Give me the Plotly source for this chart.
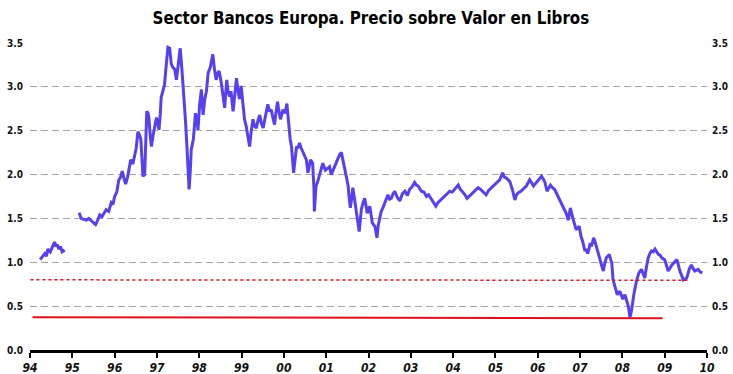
import plotly.graph_objects as go

# ---- data (x in decimal years on the chart's scale) ----
years_a = [1994.24, 1994.35, 1994.39, 1994.42, 1994.48, 1994.54, 1994.58, 1994.62,
           1994.65, 1994.68, 1994.72, 1994.76, 1994.82]
pbv_a = [1.03, 1.10, 1.07, 1.15, 1.12, 1.18, 1.23, 1.18, 1.20, 1.15, 1.18, 1.12, 1.14]

years_b = [
    1995.16, 1995.21, 1995.27, 1995.33, 1995.39, 1995.45, 1995.50, 1995.55, 1995.60, 1995.65,
    1995.70, 1995.76, 1995.80, 1995.86, 1995.92, 1995.96, 1996.00, 1996.05, 1996.10, 1996.14,
    1996.18, 1996.22, 1996.26, 1996.31, 1996.38, 1996.43, 1996.47, 1996.51, 1996.55, 1996.59,
    1996.62, 1996.65, 1996.67, 1996.71, 1996.73, 1996.76, 1996.79, 1996.81, 1996.84, 1996.87,
    1996.91, 1996.95, 1996.99, 1997.02, 1997.05, 1997.08, 1997.10, 1997.14, 1997.18, 1997.22,
    1997.26, 1997.30, 1997.34, 1997.38, 1997.42, 1997.46, 1997.51, 1997.55, 1997.59, 1997.63,
    1997.67, 1997.70, 1997.73, 1997.76, 1997.79, 1997.81, 1997.86, 1997.91, 1997.94, 1997.97,
    1998.01, 1998.05, 1998.09, 1998.13, 1998.17, 1998.21, 1998.26, 1998.32, 1998.36, 1998.40,
    1998.43, 1998.47, 1998.52, 1998.56, 1998.60, 1998.65, 1998.68, 1998.72, 1998.75, 1998.80,
    1998.84, 1998.88, 1998.91, 1998.95, 1998.99, 1999.03, 1999.07, 1999.11, 1999.15, 1999.19,
    1999.23, 1999.27, 1999.31, 1999.35, 1999.39, 1999.43, 1999.47, 1999.51, 1999.57, 1999.62,
    1999.66, 1999.70, 1999.74, 1999.78, 1999.81, 1999.85, 1999.89, 1999.92, 1999.98, 2000.03,
    2000.07, 2000.12, 2000.15, 2000.18, 2000.21, 2000.23, 2000.26, 2000.30, 2000.33, 2000.37,
    2000.41, 2000.45, 2000.49, 2000.53, 2000.57, 2000.60, 2000.63, 2000.68, 2000.71, 2000.72,
    2000.76, 2000.80, 2000.83, 2000.88, 2000.92, 2000.98, 2001.04, 2001.08, 2001.12, 2001.16,
    2001.20, 2001.24, 2001.28, 2001.32, 2001.36, 2001.40, 2001.44, 2001.48, 2001.52, 2001.54,
    2001.57, 2001.60, 2001.63, 2001.67, 2001.70, 2001.74, 2001.78, 2001.81, 2001.83, 2001.87,
    2001.91, 2001.94, 2001.97, 2002.03, 2002.06, 2002.09, 2002.15, 2002.18, 2002.20, 2002.23,
    2002.27, 2002.30, 2002.34, 2002.40, 2002.46, 2002.50, 2002.54, 2002.58, 2002.62, 2002.68,
    2002.74, 2002.80, 2002.86, 2002.92, 2002.97, 2003.03, 2003.09, 2003.13, 2003.17, 2003.21,
    2003.25, 2003.31, 2003.37, 2003.42, 2003.49, 2003.54, 2003.59, 2003.64, 2003.68, 2003.74,
    2003.80, 2003.86, 2003.92, 2003.98, 2004.04, 2004.12, 2004.16, 2004.22, 2004.28, 2004.33,
    2004.40, 2004.45, 2004.52, 2004.59, 2004.65, 2004.70, 2004.78, 2004.84, 2004.90, 2004.96,
    2005.02, 2005.10, 2005.17, 2005.21, 2005.26, 2005.34, 2005.40, 2005.46, 2005.49, 2005.53,
    2005.60, 2005.65, 2005.73, 2005.81, 2005.86, 2005.90, 2005.95, 2006.01, 2006.09, 2006.13,
    2006.17, 2006.22, 2006.26, 2006.30, 2006.35, 2006.40, 2006.48, 2006.56, 2006.60, 2006.64,
    2006.68, 2006.72, 2006.77, 2006.83, 2006.87, 2006.91, 2006.98, 2007.02, 2007.06, 2007.11,
    2007.15, 2007.18, 2007.21, 2007.24, 2007.27, 2007.32, 2007.35, 2007.39, 2007.45, 2007.50,
    2007.55, 2007.58, 2007.62, 2007.69, 2007.75, 2007.78, 2007.82, 2007.88, 2007.94, 2008.01,
    2008.06, 2008.10, 2008.14, 2008.18, 2008.22, 2008.27, 2008.33, 2008.39, 2008.45, 2008.49,
    2008.53, 2008.57, 2008.61, 2008.65, 2008.69, 2008.73, 2008.77, 2008.85, 2008.89, 2008.93,
    2009.00, 2009.04, 2009.08, 2009.12, 2009.17, 2009.25, 2009.29, 2009.36, 2009.40, 2009.44,
    2009.47, 2009.52, 2009.58, 2009.63, 2009.67, 2009.71, 2009.79, 2009.84, 2009.89]
pbv_b = [
    1.565, 1.50, 1.49, 1.48, 1.50, 1.47, 1.45, 1.43, 1.48, 1.54,
    1.52, 1.56, 1.60, 1.58, 1.68, 1.66, 1.75, 1.80, 1.94, 1.97,
    2.04, 1.96, 1.89, 1.98, 2.17, 2.12, 2.23, 2.30, 2.49, 2.45,
    2.40, 2.10, 1.98, 2.00, 2.40, 2.72, 2.70, 2.65, 2.45, 2.32,
    2.45, 2.55, 2.65, 2.58, 2.51, 2.70, 2.88, 2.95, 3.03, 3.25,
    3.45, 3.44, 3.26, 3.22, 3.20, 3.08, 3.25, 3.44, 3.20, 2.97,
    2.65, 2.40, 2.10, 1.83, 2.05, 2.28, 2.40, 2.70, 2.62, 2.51,
    2.80, 2.97, 2.68, 2.86, 2.95, 3.16, 3.22, 3.37, 3.20, 3.08,
    3.15, 3.18, 3.05, 2.90, 2.76, 3.08, 2.95, 2.89, 2.95, 2.72,
    2.90, 3.10, 2.98, 2.86, 3.01, 2.80, 2.63, 2.55, 2.44, 2.32,
    2.50, 2.63, 2.55, 2.53, 2.62, 2.68, 2.58, 2.53, 2.68, 2.80,
    2.72, 2.74, 2.65, 2.57, 2.70, 2.83, 2.70, 2.63, 2.74, 2.70,
    2.81, 2.53, 2.40, 2.32, 2.15, 2.02, 2.15, 2.32, 2.30, 2.36,
    2.30, 2.25, 2.20, 2.17, 2.02, 2.10, 2.17, 2.13, 1.85, 1.58,
    1.87, 1.92, 1.98, 2.05, 2.13, 2.05, 2.08, 2.09, 2.00, 2.05,
    2.10, 2.13, 2.18, 2.23, 2.25, 2.15, 2.05, 1.95, 1.87, 1.75,
    1.62, 1.72, 1.85, 1.72, 1.60, 1.48, 1.35, 1.50, 1.60, 1.68,
    1.73, 1.65, 1.56, 1.64, 1.52, 1.45, 1.41, 1.35, 1.28, 1.42,
    1.53, 1.58, 1.62, 1.70, 1.77, 1.72, 1.73, 1.78, 1.81, 1.74,
    1.70, 1.78, 1.81, 1.76, 1.83, 1.86, 1.91, 1.88, 1.87, 1.84,
    1.81, 1.80, 1.75, 1.77, 1.72, 1.68, 1.64, 1.68, 1.70, 1.73,
    1.75, 1.78, 1.81, 1.80, 1.83, 1.88, 1.84, 1.81, 1.77, 1.73,
    1.76, 1.79, 1.82, 1.85, 1.83, 1.81, 1.77, 1.82, 1.85, 1.88,
    1.91, 1.94, 2.02, 1.97, 1.96, 1.92, 1.83, 1.71, 1.76, 1.79,
    1.81, 1.83, 1.87, 1.94, 1.90, 1.87, 1.90, 1.94, 1.98, 1.95,
    1.91, 1.81, 1.85, 1.88, 1.85, 1.83, 1.75, 1.67, 1.64, 1.60,
    1.55, 1.48, 1.62, 1.50, 1.42, 1.37, 1.41, 1.30, 1.24, 1.14,
    1.14, 1.10, 1.15, 1.22, 1.18, 1.28, 1.24, 1.18, 1.07, 0.98,
    0.90, 0.98, 1.05, 1.09, 0.99, 0.80, 0.73, 0.63, 0.67, 0.58,
    0.63, 0.55, 0.50, 0.37, 0.46, 0.63, 0.78, 0.88, 0.92, 0.87,
    0.82, 0.95, 1.05, 1.10, 1.13, 1.12, 1.15, 1.09, 1.08, 1.05,
    1.03, 0.97, 0.90, 0.93, 0.97, 1.01, 1.03, 0.90, 0.84, 0.80,
    0.81, 0.82, 0.92, 0.97, 0.93, 0.90, 0.92, 0.89, 0.88]

# reference levels (red lines)
ref_dot_years = [1994.01, 2009.55]
ref_dot_vals = [0.80, 0.795]
ref_solid_years = [1994.06, 2008.95]
ref_solid_vals = [0.373, 0.362]

x_tick_years = list(range(1994, 2011))
x_tick_labels = ["94", "95", "96", "97", "98", "99", "00", "01", "02",
                 "03", "04", "05", "06", "07", "08", "09", "10"]
y_ticks = [0.0, 0.5, 1.0, 1.5, 2.0, 2.5, 3.0, 3.5]

title_text = "Sector Bancos Europa. Precio sobre Valor en Libros"

# ---- figure ----
x_all = years_a + [None] + years_b
y_all = pbv_a + [None] + pbv_b

fig = go.Figure()
fig.add_trace(go.Scatter(x=ref_dot_years, y=ref_dot_vals, mode="lines",
                         line=dict(color="#E0101A", width=1.5, dash="dot"),
                         yaxis="y2", hoverinfo="skip", showlegend=False))
fig.add_trace(go.Scatter(x=ref_solid_years, y=ref_solid_vals, mode="lines",
                         line=dict(color="#E0101A", width=2),
                         hoverinfo="skip", showlegend=False))
fig.add_trace(go.Scatter(x=x_all, y=y_all, mode="lines", connectgaps=False,
                         line=dict(color="#5541F0", width=3), showlegend=False))

tick_font = dict(family="DejaVu Sans Condensed, DejaVu Sans", size=10, color="#111111",
                 weight="bold")

fig.update_layout(
    width=733, height=374,
    margin=dict(l=30, r=26, t=43, b=24, autoexpand=False),
    paper_bgcolor="white", plot_bgcolor="white",
    title=dict(text="<b>" + title_text + "</b>", x=0.506, xanchor="center",
               y=0.952, yanchor="middle",
               font=dict(family="DejaVu Sans Condensed, sans-serif",
                         size=16.8, color="black")),
    xaxis=dict(range=[1994, 2010], tickmode="array", tickvals=x_tick_years,
               ticktext=["<i>" + t + "</i>" for t in x_tick_labels],
               ticks="outside", ticklen=5, tickwidth=2, tickcolor="black",
               showline=True, linewidth=3, linecolor="black",
               showgrid=False, zeroline=False, automargin=False,
               tickfont=dict(family="DejaVu Sans Condensed, DejaVu Sans", size=12,
                             color="#111111", weight="bold")),
    yaxis=dict(range=[0, 3.5], tickmode="array", tickvals=y_ticks, tickformat=".1f",
               showgrid=True, gridcolor="#A6A6A6", gridwidth=1, griddash="7px,4px",
               zeroline=False, showline=False, ticks="", ticklabelstandoff=6,
               automargin=False, tickfont=tick_font),
    yaxis2=dict(range=[0, 3.5], overlaying="y", side="right", tickmode="array",
                tickvals=y_ticks, tickformat=".1f", showgrid=False, zeroline=False,
                showline=False, ticks="", ticklabelstandoff=4, automargin=False,
                tickfont=tick_font),
)

fig.write_html("out.html", config={"displayModeBar": False},
               post_script="document.body.style.margin='0';document.body.style.padding='0';")
